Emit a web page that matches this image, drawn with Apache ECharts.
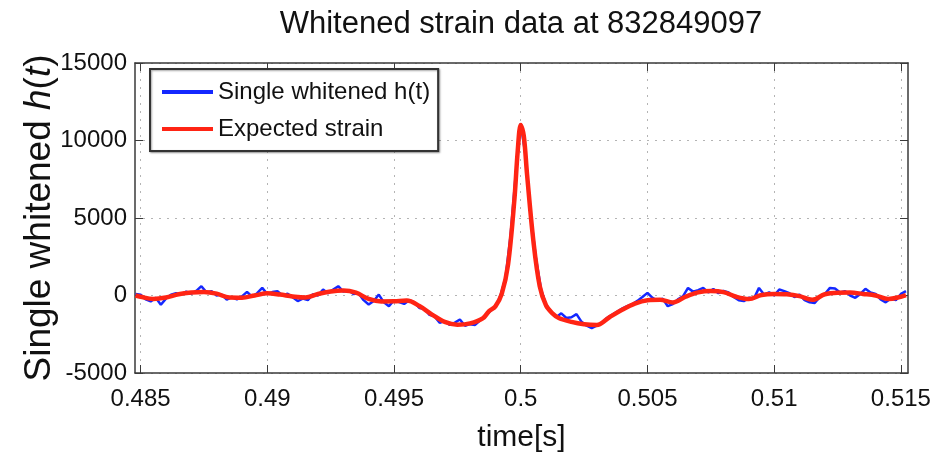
<!DOCTYPE html>
<html>
<head>
<meta charset="utf-8">
<title>Whitened strain data</title>
<script src="https://cdn.jsdelivr.net/npm/echarts@6/dist/echarts.min.js"></script>
<style>
  html, body { margin: 0; padding: 0; background: #fff; }
  #chart { width: 950px; height: 458px; }
</style>
</head>
<body>
<div id="chart"></div>
<script>
// smooth template (red)
const expectedTime = [0.4848, 0.485, 0.4855, 0.486, 0.4865, 0.487, 0.4875, 0.488, 0.4885, 0.489, 0.4895, 0.49, 0.4905, 0.491, 0.4915, 0.492, 0.4925, 0.493, 0.4935, 0.494, 0.4945, 0.495, 0.4955, 0.496, 0.4965, 0.497, 0.4975, 0.498, 0.4985, 0.49875, 0.499, 0.49925, 0.4995, 0.49975, 0.49988, 0.5, 0.50012, 0.50025, 0.5005, 0.50075, 0.501, 0.50125, 0.5015, 0.502, 0.5025, 0.503, 0.5035, 0.504, 0.5045, 0.505, 0.5055, 0.506, 0.5065, 0.507, 0.5075, 0.508, 0.5085, 0.509, 0.5095, 0.51, 0.5105, 0.511, 0.5115, 0.512, 0.5125, 0.513, 0.5135, 0.514, 0.5145, 0.515, 0.5152]
const expectedStrain = [0, -80, -220, -130, 80, 190, 230, 120, -130, -140, 0, 140, 60, -60, -130, 100, 260, 320, 180, -220, -380, -370, -330, -680, -1230, -1700, -1880, -1800, -1480, -1010, -700, 100, 2000, 6200, 9300, 11000, 10300, 7800, 3500, 600, -650, -1150, -1450, -1700, -1850, -1900, -1400, -920, -520, -300, -270, -450, -80, 200, 290, 220, -80, -230, 30, 100, 80, -40, -280, 80, 180, 190, 100, 0, -220, -80, 20]

// noisy whitened data (blue)
const whitenedTime = [
  0.4848, 0.4850, 0.4852, 0.4854, 0.4856, 0.4858, 0.4860, 0.4862, 0.4864, 0.4866,
  0.4868, 0.4870, 0.4872, 0.4874, 0.4876, 0.4878, 0.4880, 0.4882, 0.4884, 0.4886,
  0.4888, 0.4890, 0.4892, 0.4894, 0.4896, 0.4898, 0.4900, 0.4902, 0.4904, 0.4906,
  0.4908, 0.4910, 0.4912, 0.4914, 0.4916, 0.4918, 0.4920, 0.4922, 0.4924, 0.4926,
  0.4928, 0.4930, 0.4932, 0.4934, 0.4936, 0.4938, 0.4940, 0.4942, 0.4944, 0.4946,
  0.4948, 0.4950, 0.4952, 0.4954, 0.4956, 0.4958, 0.4960, 0.4962, 0.4964, 0.4966,
  0.4968, 0.4970, 0.4972, 0.4974, 0.4976, 0.4978, 0.4980, 0.4982, 0.4984, 0.4986,
  0.4988, 0.4990, 0.4992, 0.4994, 0.4996, 0.4998, 0.5000, 0.5002, 0.5004, 0.5006,
  0.5008, 0.5010, 0.5012, 0.5014, 0.5016, 0.5018, 0.5020, 0.5022, 0.5024, 0.5026,
  0.5028, 0.5030, 0.5032, 0.5034, 0.5036, 0.5038, 0.5040, 0.5042, 0.5044, 0.5046,
  0.5048, 0.5050, 0.5052, 0.5054, 0.5056, 0.5058, 0.5060, 0.5062, 0.5064, 0.5066,
  0.5068, 0.5070, 0.5072, 0.5074, 0.5076, 0.5078, 0.5080, 0.5082, 0.5084, 0.5086,
  0.5088, 0.5090, 0.5092, 0.5094, 0.5096, 0.5098, 0.5100, 0.5102, 0.5104, 0.5106,
  0.5108, 0.5110, 0.5112, 0.5114, 0.5116, 0.5118, 0.5120, 0.5122, 0.5124, 0.5126,
  0.5128, 0.5130, 0.5132, 0.5134, 0.5136, 0.5138, 0.5140, 0.5142, 0.5144, 0.5146,
  0.5148, 0.5150, 0.5152
]
const whitenedStrain = [
  100, 50, -250, -380, -150, -600, -200, 50, 150, 60,
  250, 120, 300, 600, 200, 280, 0, 60, -260, -100,
  -250, -60, 230, -80, 150, 490, 100, 220, 280, 0,
  120, -120, -360, -200, -300, 80, 0, 380, 150, 380,
  600, 250, 350, 100, 150, -300, -580, -350, 60, -440,
  -690, -300, -420, -540, -300, -450, -800, -850, -1250, -1350,
  -1760, -1650, -1900, -1750, -1550, -1950, -1850, -1900, -1600, -1350,
  -1000, -750, 0, 1150, 3900, 7800, 11100, 8900, 5100, 2400,
  400, -600, -1050, -1400, -1150, -1450, -1400, -1200, -1700, -1950,
  -2100, -1950, -1800, -1450, -1250, -1050, -850, -690, -560, -350,
  -100, 170, -150, -350, -200, -690, -550, -250, -50, 490,
  250, 350, 490, 200, 420, 150, 300, 200, -100, -300,
  -360, -150, -200, 490, 60, 200, 0, 390, 280, 150,
  -100, 50, -300, -440, -480, -100, 100, 490, 450, 200,
  280, 0, -150, 100, 430, 200, 100, -250, -440, -200,
  -300, 100, 280
]

const timeTicks = [0.485, 0.49, 0.495, 0.5, 0.505, 0.51, 0.515]
const timeMin = 0.48478
const timeMax = 0.51528

const font = 'Liberation Sans, Arial, Helvetica, sans-serif'
const frame = { show: true, onZero: false, lineStyle: { color: '#3a3a3a', width: 1.5 } }
const dotted = { show: true, lineStyle: { color: '#b4b4b4', width: 1, type: [2, 6] } }

const chart = echarts.init(document.getElementById('chart'), null, { renderer: 'canvas' })

const option = {
  animation: false,
  backgroundColor: '#fff',
  textStyle: { fontFamily: font },
  title: {
    text: 'Whitened strain data at 832849097',
    left: 516,
    textAlign: 'center',
    top: 4,
    textStyle: { fontFamily: font, fontSize: 31, fontWeight: 'normal', color: '#111' }
  },
  legend: {
    orient: 'vertical',
    left: 150,
    top: 69,
    padding: [11, 8, 10, 12],
    itemGap: 13,
    itemWidth: 51,
    itemHeight: 4,
    icon: 'rect',
    backgroundColor: '#fff',
    borderColor: '#333',
    borderWidth: 2,
    shadowColor: 'rgba(0,0,0,0.35)',
    shadowBlur: 2,
    shadowOffsetX: 1,
    shadowOffsetY: 1,
    textStyle: { fontFamily: font, fontSize: 24, color: '#111', lineHeight: 24 },
    data: ['Single whitened h(t)', 'Expected strain']
  },
  grid: { left: 135, right: 42, top: 63, bottom: 85 },
  xAxis: [
    {
      type: 'value',
      min: timeMin,
      max: timeMax,
      name: 'time[s]',
      nameLocation: 'middle',
      nameGap: 50,
      nameTextStyle: { fontFamily: font, fontSize: 30, color: '#111' },
      axisLine: frame,
      axisTick: { show: true, inside: true, length: 8, customValues: timeTicks, lineStyle: { color: '#3a3a3a' } },
      axisLabel: {
        customValues: timeTicks,
        margin: 14,
        fontFamily: font,
        fontSize: 24,
        color: '#111',
        formatter: (v) => String(+v.toFixed(3))
      },
      splitLine: dotted
    },
    {
      type: 'value',
      position: 'top',
      min: timeMin,
      max: timeMax,
      axisLine: frame,
      axisTick: { show: true, inside: true, length: 8, customValues: timeTicks, lineStyle: { color: '#3a3a3a' } },
      axisLabel: { show: false },
      splitLine: { show: false }
    }
  ],
  yAxis: [
    {
      type: 'value',
      min: -5000,
      max: 15000,
      interval: 5000,
      name: 'Single whitened {i|h}({i|t})',
      nameLocation: 'middle',
      nameGap: 77,
      nameMoveOverlap: false,
      nameTextStyle: {
        fontFamily: font,
        fontSize: 37,
        color: '#111',
        rich: { i: { fontFamily: font, fontSize: 37, fontStyle: 'italic', color: '#111' } }
      },
      axisLine: frame,
      axisTick: { show: true, inside: true, length: 8, lineStyle: { color: '#3a3a3a' } },
      axisLabel: { margin: 8, fontFamily: font, fontSize: 24, color: '#111', formatter: (v) => String(v) },
      splitLine: dotted
    },
    {
      type: 'value',
      position: 'right',
      min: -5000,
      max: 15000,
      interval: 5000,
      axisLine: frame,
      axisTick: { show: true, inside: true, length: 8, lineStyle: { color: '#3a3a3a' } },
      axisLabel: { show: false },
      splitLine: { show: false }
    }
  ],
  series: [
    {
      name: 'Single whitened h(t)',
      type: 'line',
      xAxisIndex: 0,
      yAxisIndex: 0,
      symbol: 'none',
      color: '#1428ff',
      lineStyle: { color: '#1428ff', width: 2.5 },
      data: whitenedTime.map((t, i) => [t, whitenedStrain[i]])
    },
    {
      name: 'Expected strain',
      type: 'line',
      xAxisIndex: 0,
      yAxisIndex: 0,
      symbol: 'none',
      smooth: 0.35,
      color: '#ff2414',
      lineStyle: { color: '#ff2414', width: 4.5 },
      data: expectedTime.map((t, i) => [t, expectedStrain[i]])
    }
  ]
}

chart.setOption(option)
</script>
</body>
</html>
